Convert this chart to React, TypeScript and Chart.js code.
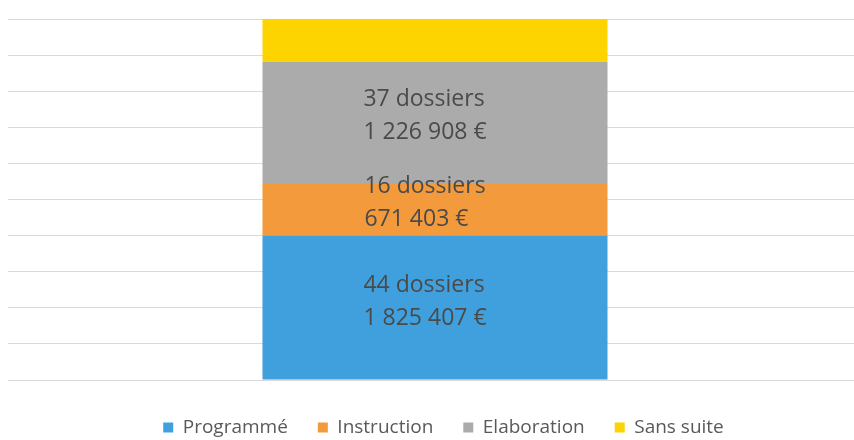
import React, { useEffect, useRef } from "react";
import { Chart, registerables } from "chart.js";

Chart.register(...registerables);

const categories = [""];
const seriesNames = ["Programmé", "Instruction", "Elaboration", "Sans suite"];
const dossiers = [44, 16, 37, 13];
const montants: (string | null)[] = ["1 825 407 €", "671 403 €", "1 226 908 €", null];
const seriesColors = ["#40A0DE", "#F39A3C", "#ABABAB", "#FDD300"];

const total = dossiers.reduce((a, b) => a + b, 0);

const segmentLabels = {
  id: "segmentLabels",
  afterDatasetsDraw(chart: any) {
    const ctx = chart.ctx;
    ctx.save();
    ctx.font = "23px 'Open Sans'";
    ctx.fillStyle = "#4a4a4a";
    ctx.textAlign = "left";
    ctx.textBaseline = "middle";
    chart.data.datasets.forEach((_ds: any, i: number) => {
      const m = montants[i];
      if (!m) return;
      const el = chart.getDatasetMeta(i).data[0];
      if (!el) return;
      const l1 = `${dossiers[i]} dossiers`;
      const w = Math.max(ctx.measureText(l1).width, ctx.measureText(m).width);
      const cx = el.x - 10;
      const cy = (el.y + el.base) / 2 - 6;
      const x0 = cx - w / 2;
      ctx.fillText(l1, x0, cy - 16.5);
      ctx.fillText(m, x0, cy + 16.5);
    });
    ctx.restore();
  },
};

export default function App() {
  const ref = useRef<HTMLCanvasElement | null>(null);
  useEffect(() => {
    document.body.style.margin = "0";
    document.documentElement.style.overflow = "hidden";
    document.body.style.overflow = "hidden";
    if (!ref.current) return;
    const chart = new Chart(ref.current, {
      type: "bar",
      data: {
        labels: categories,
        datasets: seriesNames.map((name, i) => ({
          label: name,
          data: [dossiers[i]],
          backgroundColor: seriesColors[i],
          borderWidth: 0,
          barPercentage: 0.404,
          categoryPercentage: 1,
        })),
      },
      options: {
        animation: false,
        responsive: true,
        maintainAspectRatio: false,
        layout: { padding: { left: 8, right: 0, top: 19, bottom: 0 } },
        plugins: {
          tooltip: { enabled: false },
          legend: {
            position: "bottom",
            labels: {
              boxWidth: 10,
              boxHeight: 10,
              padding: 30,
              color: "#595959",
              font: { family: "'Open Sans'", size: 19 },
            },
          },
        },
        scales: {
          x: {
            stacked: true,
            grid: { display: false },
            border: { display: false },
            ticks: { display: false },
            afterFit: (s: any) => {
              s.height = 8;
            },
          },
          y: {
            stacked: true,
            position: "right",
            min: 0,
            max: total,
            ticks: { display: false, stepSize: total / 10 },
            grid: { color: "#d9d9d9", lineWidth: 1, drawTicks: false },
            border: { display: false },
            afterFit: (s: any) => {
              s.width = 17;
            },
          },
        },
      },
      plugins: [segmentLabels],
    });
    return () => chart.destroy();
  }, []);
  return (
    <div style={{ position: "absolute", left: 0, top: 0, width: 879, height: 447 }}>
      <canvas ref={ref} />
    </div>
  );
}
